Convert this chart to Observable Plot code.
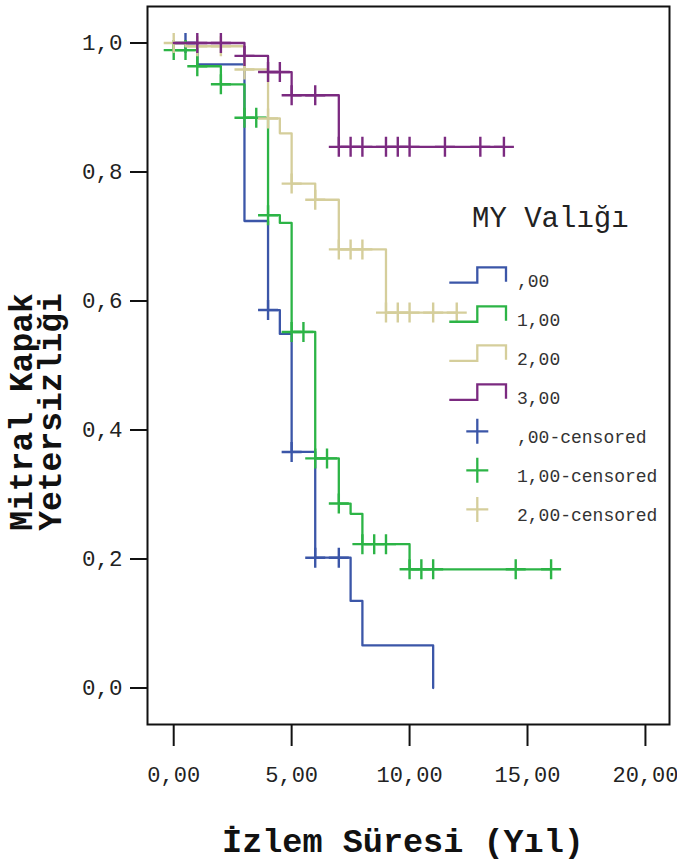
<!DOCTYPE html>
<html><head><meta charset="utf-8">
<script src="https://cdn.jsdelivr.net/npm/d3@7"></script>
<script src="https://cdn.jsdelivr.net/npm/@observablehq/plot@0.6"></script>
<style>html,body{margin:0;padding:0;background:#fff}</style>
</head><body><div id="chart"></div>
<script>
// ---- data (Kaplan-Meier curves) ----
const groups = [",00", "1,00", "2,00", "3,00"];
const colors = ["#3B56A8", "#2CB446", "#D5CE9B", "#7B2A80"];

const blueTimes = [0, 1, 3, 4, 4.5, 5, 6, 7.5, 8, 11];
const blueSurv  = [1, 0.967, 0.724, 0.586, 0.549, 0.366, 0.202, 0.135, 0.066, 0];
const blueCensored = [0.5, 4, 5, 6, 7];

const greenTimes = [0, 0, 1, 2, 3, 4, 4.5, 5, 6, 7, 7.5, 8, 10, 16];
const greenSurv  = [1, 0.989, 0.964, 0.936, 0.884, 0.733, 0.721, 0.552, 0.356, 0.286, 0.270, 0.223, 0.184, 0.184];
const greenCensored = [0, 0.5, 1, 2, 3, 3.5, 4, 5, 5.5, 6, 6.5, 7, 8, 8.5, 9, 10, 10.5, 11, 14.5, 16];

const khakiTimes = [0, 0.5, 3, 4, 4.5, 5, 6, 7, 9, 12];
const khakiSurv  = [1, 0.995, 0.959, 0.883, 0.860, 0.782, 0.757, 0.680, 0.582, 0.582];
const khakiCensored = [0, 1, 2, 3, 4, 5, 6, 7, 7.5, 8, 9, 9.5, 10, 11, 12];

const purpleTimes = [0, 3, 4, 5, 7, 14];
const purpleSurv  = [1, 0.980, 0.955, 0.919, 0.839, 0.839];
const purpleCensored = [1, 2, 3, 4, 4.5, 5, 6, 7, 7.5, 8, 9, 9.5, 10, 11.5, 13, 14];

const xTicks = [0, 5, 10, 15, 20];
const yTicks = [0, 0.2, 0.4, 0.6, 0.8, 1];
const xTitle = "İzlem Süresi (Yıl)";
const yTitleLines = ["Mitral Kapak", "Yetersizliği"];
const legendTitle = "MY Valığı";
const legendLabels = [",00", "1,00", "2,00", "3,00", ",00-censored", "1,00-censored", "2,00-censored"];

// ---- build tables ----
const series = [
  {times: blueTimes, surv: blueSurv, cens: blueCensored},
  {times: greenTimes, surv: greenSurv, cens: greenCensored},
  {times: khakiTimes, surv: khakiSurv, cens: khakiCensored},
  {times: purpleTimes, surv: purpleSurv, cens: purpleCensored}
];
function survAt(times, surv, t) {
  let v = surv[0];
  for (let k = 0; k < times.length; k++) if (times[k] <= t + 1e-9) v = surv[k];
  return v;
}
const FONT = "'Liberation Mono', 'Courier New', monospace";
const crossSymbol = {
  draw(ctx, size) {
    const r = Math.sqrt(size / Math.PI);
    ctx.moveTo(-r, 0); ctx.lineTo(r, 0);
    ctx.moveTo(0, -r); ctx.lineTo(0, r);
  }
};

const marks = [];
series.forEach((s, i) => {
  const steps = s.times.map((t, k) => ({group: groups[i], t, s: s.surv[k]}));
  const cens = s.cens.map(t => ({group: groups[i], t, s: survAt(s.times, s.surv, t)}));
  marks.push(Plot.line(steps, {x: "t", y: "s", curve: "step-after", stroke: colors[i], strokeWidth: 2.3}));
  marks.push(Plot.dot(cens, {x: "t", y: "s", symbol: crossSymbol, r: 10, fill: "none", stroke: colors[i], strokeWidth: 2.4}));
});

const fmt2 = d => d.toFixed(2).replace(".", ",");
const fmt1 = d => d.toFixed(1).replace(".", ",");

const plot = Plot.plot({
  width: 677,
  height: 864,
  marginLeft: 147,
  marginRight: 8,
  marginTop: 6,
  marginBottom: 140,
  style: {fontFamily: FONT, fontSize: "22px", background: "#fff", color: "#222"},
  x: {domain: [-1.111, 21.02], label: null},
  y: {domain: [-0.0566, 1.0566], label: null},
  marks: [
    ...marks,
    Plot.frame({stroke: "#111", strokeWidth: 2}),
    Plot.axisX({ticks: xTicks, tickFormat: fmt2, tickSize: 22, tickPadding: 20, strokeWidth: 2, stroke: "#111", label: null, fontSize: 22}),
    Plot.axisY({ticks: yTicks, tickFormat: fmt1, tickSize: 17, tickPadding: 8, strokeWidth: 2, stroke: "#111", label: null, fontSize: 22.5})
  ]
});
document.getElementById("chart").appendChild(plot);

// ---- titles & legend ----
const svg = d3.select(plot);
svg.append("text")
  .attr("x", 403).attr("y", 852).attr("text-anchor", "middle")
  .attr("font-family", FONT).attr("font-weight", "bold").attr("font-size", 33.5).attr("fill", "#111")
  .text(xTitle);
const yt = svg.append("g").attr("transform", "translate(0,412) rotate(-90)");
yTitleLines.forEach((line, i) => {
  yt.append("text").attr("x", 0).attr("y", 32 + i * 29).attr("text-anchor", "middle")
    .attr("font-family", FONT).attr("font-weight", "bold").attr("font-size", 33).attr("fill", "#111")
    .text(line);
});

const lg = svg.append("g").attr("font-family", FONT).attr("text-anchor", "start");
lg.append("text").attr("x", 472).attr("y", 227).attr("text-anchor", "start")
  .attr("font-size", 29).attr("fill", "#222").text(legendTitle);
legendLabels.forEach((lab, i) => {
  const b = 286.7 + i * 39.05;
  if (i < 4) {
    lg.append("path")
      .attr("d", `M449.3,${b - 4}H477.3V${b - 19.4}H506V${b - 5}`)
      .attr("fill", "none").attr("stroke", colors[i]).attr("stroke-width", 2.3);
  } else {
    const c = colors[i - 4], cy = b - 11.6;
    lg.append("path")
      .attr("d", `M466.3,${cy}H488.3M477.3,${cy - 12.5}V${cy + 12.5}`)
      .attr("fill", "none").attr("stroke", c).attr("stroke-width", 2.3);
  }
  lg.append("text").attr("x", 517).attr("y", b).attr("text-anchor", "start")
    .attr("font-size", 18).attr("fill", "#333").text(lab);
});
</script>
</body></html>
